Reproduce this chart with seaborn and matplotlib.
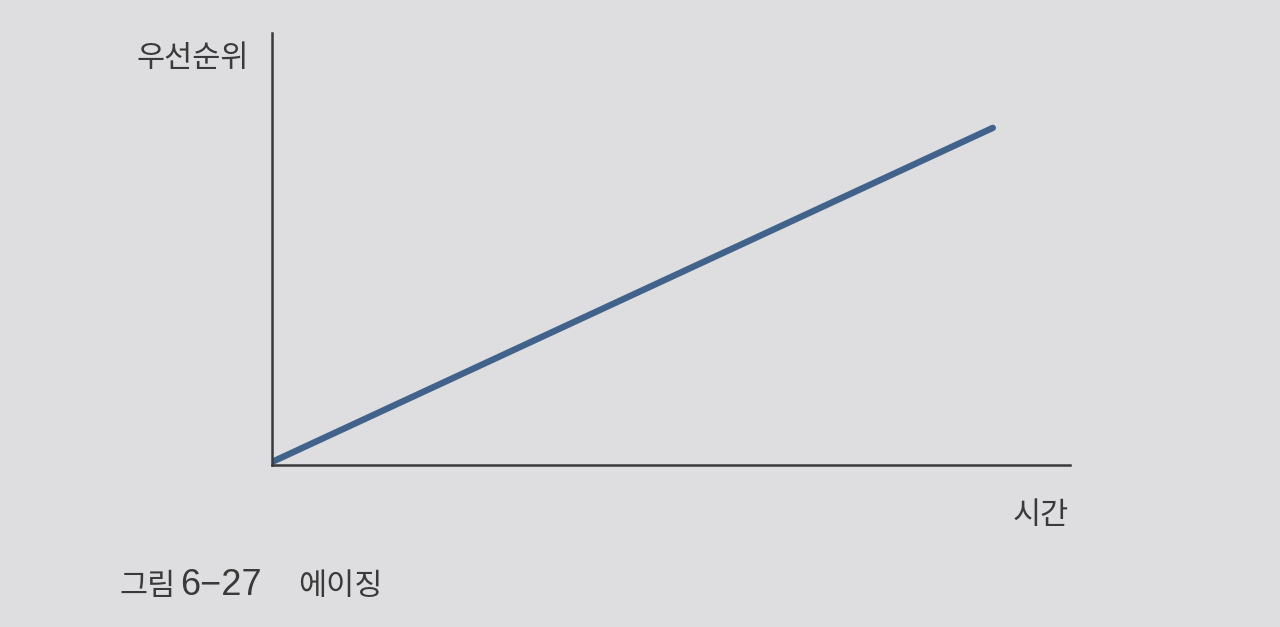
import pandas as pd
import matplotlib
matplotlib.use('Agg')
import matplotlib.pyplot as plt
import seaborn as sns

# aging: priority grows linearly with waiting time
time = [0, 1]
priority = [0, 1]

bg = '#dedee0'
ink = '#3a3a3a'

sns.set_style('white')
plt.rcParams['font.family'] = ['Noto Sans CJK KR', 'DejaVu Sans']

df = pd.DataFrame({'시간': time, '우선순위': priority})

fig = plt.figure(figsize=(12.8, 6.27), dpi=100, facecolor=bg)
ax = fig.add_axes([0.2125, 0.2584, 0.6234, 0.689])
ax.set_facecolor(bg)

sns.lineplot(data=df, x='시간', y='우선순위', ax=ax, color='#41628a',
             linewidth=4.6, solid_capstyle='round')

ax.set_xlim(0, 1.107)
ax.set_ylim(-0.009, 1.284)
ax.set_xticks([])
ax.set_yticks([])
ax.set_xlabel('')
ax.set_ylabel('')
for s in ['top', 'right']:
    ax.spines[s].set_visible(False)
for s in ['left', 'bottom']:
    ax.spines[s].set_color(ink)
    ax.spines[s].set_linewidth(1.8)

fig.text(0.107, 0.907, '우선순위', fontsize=22, color=ink, ha='left', va='center')
fig.text(0.835, 0.178, '시간', fontsize=22, color=ink, ha='right', va='center')
fig.text(0.093, 0.064, '그림', fontsize=22, color=ink,
         ha='left', va='center', fontweight='medium')
fig.text(0.141, 0.066, '6−27', fontsize=26, color=ink,
         ha='left', va='center', fontweight='medium',
         family=['Liberation Sans', 'Noto Sans CJK KR'])
fig.text(0.233, 0.064, '에이징', fontsize=22, color=ink,
         ha='left', va='center', fontweight='medium')

fig.savefig('out.png', dpi=100, facecolor=bg)
